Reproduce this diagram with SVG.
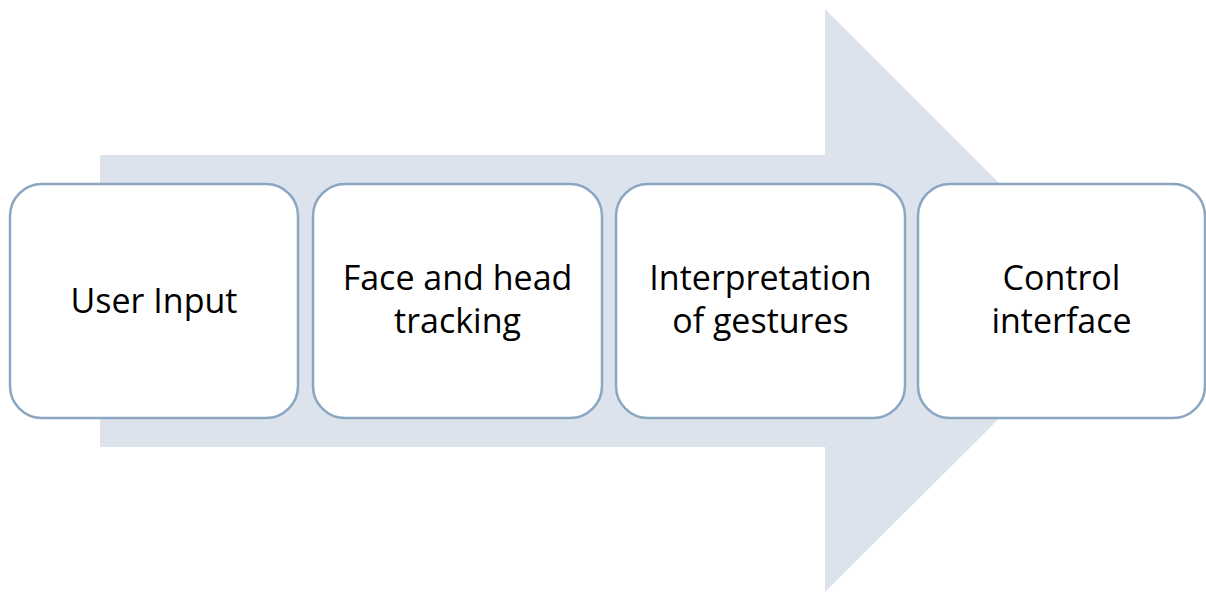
<svg xmlns="http://www.w3.org/2000/svg" width="1206" height="592" viewBox="0 0 1206 592">
  <style>
    .step { fill: #ffffff; stroke: #8aa6c1; stroke-width: 2.5; }
    .label { font-family: "Open Sans", "Liberation Sans", sans-serif; font-size: 34px; fill: #000000; text-anchor: middle; }
  </style>
  <rect width="1206" height="592" fill="#ffffff"/>
  <!-- background process arrow -->
  <g id="flow-arrow">
    <polygon points="100,155 825,155 825,9 1117,301 825,592 825,447 100,447" fill="#dce3ed"/>
  </g>
  <g id="step-user-input">
    <rect class="step" x="10" y="184" width="288" height="234" rx="32" ry="32"/>
    <text class="label" x="154" y="313">User Input</text>
  </g>
  <g id="step-tracking">
    <rect class="step" x="313" y="184" width="289" height="234" rx="32" ry="32"/>
    <text class="label" x="457.5" y="290">Face and head</text>
    <text class="label" x="457.5" y="333">tracking</text>
  </g>
  <g id="step-interpretation">
    <rect class="step" x="616" y="184" width="289" height="234" rx="32" ry="32"/>
    <text class="label" x="760.5" y="290">Interpretation</text>
    <text class="label" x="760.5" y="333">of gestures</text>
  </g>
  <g id="step-control">
    <rect class="step" x="918" y="184" width="287" height="234" rx="32" ry="32"/>
    <text class="label" x="1061.5" y="290">Control</text>
    <text class="label" x="1061.5" y="333">interface</text>
  </g>
</svg>
